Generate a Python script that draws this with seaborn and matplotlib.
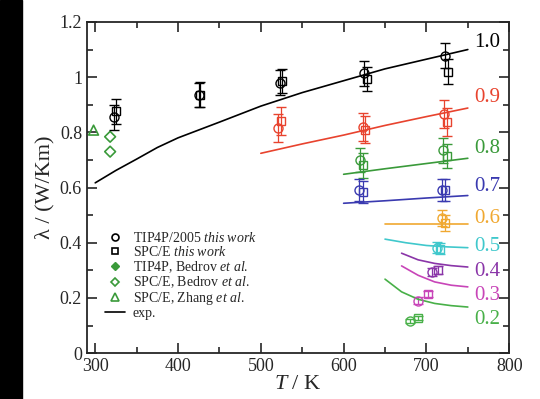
import matplotlib
matplotlib.use("Agg")
import matplotlib.pyplot as plt
import seaborn as sns
import pandas as pd
from matplotlib.lines import Line2D
from matplotlib.patches import Rectangle

# isochore labels (density, g/cm^3) and colours
densities = ["1.0", "0.9", "0.8", "0.7", "0.6", "0.5", "0.4", "0.3", "0.2"]
colors = ["#000000", "#e8432e", "#3a9a3a", "#3a3ab0", "#f0a830",
          "#40c8cc", "#8a35a8", "#c845b8", "#48b048"]
label_y = [1.127, 0.928, 0.743, 0.605, 0.489, 0.388, 0.297, 0.207, 0.12]

# experimental curves
exp_T = [
    [300, 325, 350, 375, 400, 450, 500, 550, 600, 650, 700, 750],
    [500, 550, 600, 650, 700, 750],
    [600, 650, 700, 750],
    [600, 650, 700, 750],
    [650, 700, 750],
    [650, 675, 700, 725, 750],
    [670, 690, 710, 730, 750],
    [670, 690, 710, 730, 750],
    [650, 670, 690, 710, 730, 750],
]
exp_lam = [
    [0.617, 0.662, 0.703, 0.745, 0.78, 0.837, 0.895, 0.944, 0.987, 1.03, 1.065, 1.10],
    [0.724, 0.758, 0.79, 0.825, 0.857, 0.888],
    [0.648, 0.668, 0.687, 0.706],
    [0.543, 0.552, 0.562, 0.571],
    [0.468, 0.468, 0.468],
    [0.413, 0.40, 0.39, 0.385, 0.382],
    [0.362, 0.338, 0.325, 0.317, 0.312],
    [0.316, 0.282, 0.258, 0.246, 0.24],
    [0.268, 0.222, 0.195, 0.18, 0.172, 0.167],
]

# TIP4P/2005 (this work)
tip4p_T = [[323, 425, 523, 625, 722], [521, 623, 721], [620, 720], [618, 719],
           [719], [713], [707], [690], [680]]
tip4p_lam = [[0.855, 0.935, 0.98, 1.014, 1.077], [0.815, 0.82, 0.866], [0.70, 0.735],
             [0.59, 0.59], [0.489], [0.382], [0.294], [0.19], [0.116]]
# SPC/E (this work)
spce_T = [[325, 427, 526, 628, 726], [524, 626, 725], [623, 725], [623, 723],
          [723], [717], [714], [702], [690]]
spce_lam = [[0.877, 0.937, 0.986, 0.993, 1.02], [0.84, 0.81, 0.838], [0.68, 0.714],
            [0.583, 0.59], [0.471], [0.378], [0.30], [0.214], [0.127]]
err = [0.045, 0.05, 0.045, 0.04, 0.03, 0.02, 0.015, 0.012, 0.008]

# literature points at ambient conditions
bedrov_T = [318, 318]
bedrov_lam = [0.784, 0.73]
zhang_T = [298]
zhang_lam = [0.808]

sns.set_style("ticks")
plt.rcParams["font.family"] = ["Liberation Serif", "DejaVu Serif"]
plt.rcParams["mathtext.fontset"] = "custom"
plt.rcParams["mathtext.rm"] = "Liberation Serif"
plt.rcParams["mathtext.it"] = "Liberation Serif:italic"

fig = plt.figure(figsize=(5.4, 3.99), dpi=100)
fig.patches.append(Rectangle((0, 0), 22 / 540, 1, transform=fig.transFigure,
                             color="black", zorder=0))
ax = fig.add_axes([0.161, 0.115, 0.782, 0.83])

for i, d in enumerate(densities):
    c = colors[i]
    df = pd.DataFrame({"T": exp_T[i], "lam": exp_lam[i]})
    sns.lineplot(data=df, x="T", y="lam", color=c, lw=1.2, ax=ax)
    ax.errorbar(tip4p_T[i], tip4p_lam[i], yerr=err[i], fmt="o", mfc="none",
                mec=c, ecolor=c, ms=6.5, mew=1.0, elinewidth=0.9, capsize=3.5, capthick=0.9)
    ax.errorbar(spce_T[i], spce_lam[i], yerr=err[i], fmt="s", mfc="none",
                mec=c, ecolor=c, ms=6, mew=1.0, elinewidth=0.9, capsize=3.5, capthick=0.9)
    ax.text(758, label_y[i], d, color=c, fontsize=15, va="center", ha="left",
            clip_on=False)

green = "#3a9a3a"
sns.scatterplot(x=bedrov_T, y=bedrov_lam, marker="D", s=30, facecolor="none",
                edgecolor=green, linewidth=1.2, ax=ax)
sns.scatterplot(x=zhang_T, y=zhang_lam, marker="^", s=50, facecolor="none",
                edgecolor=green, linewidth=1.2, ax=ax)

ax.set_xlim(290, 800)
ax.set_ylim(0, 1.2)
ax.set_xticks([300, 400, 500, 600, 700, 800])
ax.set_xticks([350, 450, 550, 650, 750], minor=True)
ax.set_yticks([0, 0.2, 0.4, 0.6, 0.8, 1.0, 1.2])
ax.set_yticklabels(["0", "0.2", "0.4", "0.6", "0.8", "1", "1.2"])
ax.set_yticks([0.1, 0.3, 0.5, 0.7, 0.9, 1.1], minor=True)
ax.tick_params(which="both", direction="in", top=True, right=True, labelsize=13,
               width=1.2)
ax.tick_params(which="major", length=7)
ax.tick_params(which="minor", length=4)
for s in ax.spines.values():
    s.set_linewidth(1.3)
ax.set_xlabel(r"$T$ / K", fontsize=16, labelpad=0)
ax.set_ylabel("λ / (W/Km)", fontsize=16, labelpad=4)

handles = [
    Line2D([], [], marker="o", ls="none", mfc="none", mec="black", ms=5, mew=1.2),
    Line2D([], [], marker="s", ls="none", mfc="none", mec="black", ms=5, mew=1.2),
    Line2D([], [], marker="D", ls="none", mfc=green, mec=green, ms=4.5),
    Line2D([], [], marker="D", ls="none", mfc="none", mec=green, ms=4.5, mew=1.2),
    Line2D([], [], marker="^", ls="none", mfc="none", mec=green, ms=6, mew=1.2),
    Line2D([], [], color="black", lw=1.2),
]
labels = [
    r"TIP4P/2005 $\it{this\ work}$",
    r"SPC/E $\it{this\ work}$",
    r"TIP4P, Bedrov $\it{et\ al.}$",
    r"SPC/E, Bedrov $\it{et\ al.}$",
    r"SPC/E, Zhang $\it{et\ al.}$",
    "exp.",
]
ax.legend(handles, labels, loc="lower left", bbox_to_anchor=(0.02, 0.07),
          frameon=False, fontsize=10, handlelength=1.4, handletextpad=0.6,
          labelspacing=0.0, borderpad=0.2)

fig.savefig("out.png", dpi=100)
